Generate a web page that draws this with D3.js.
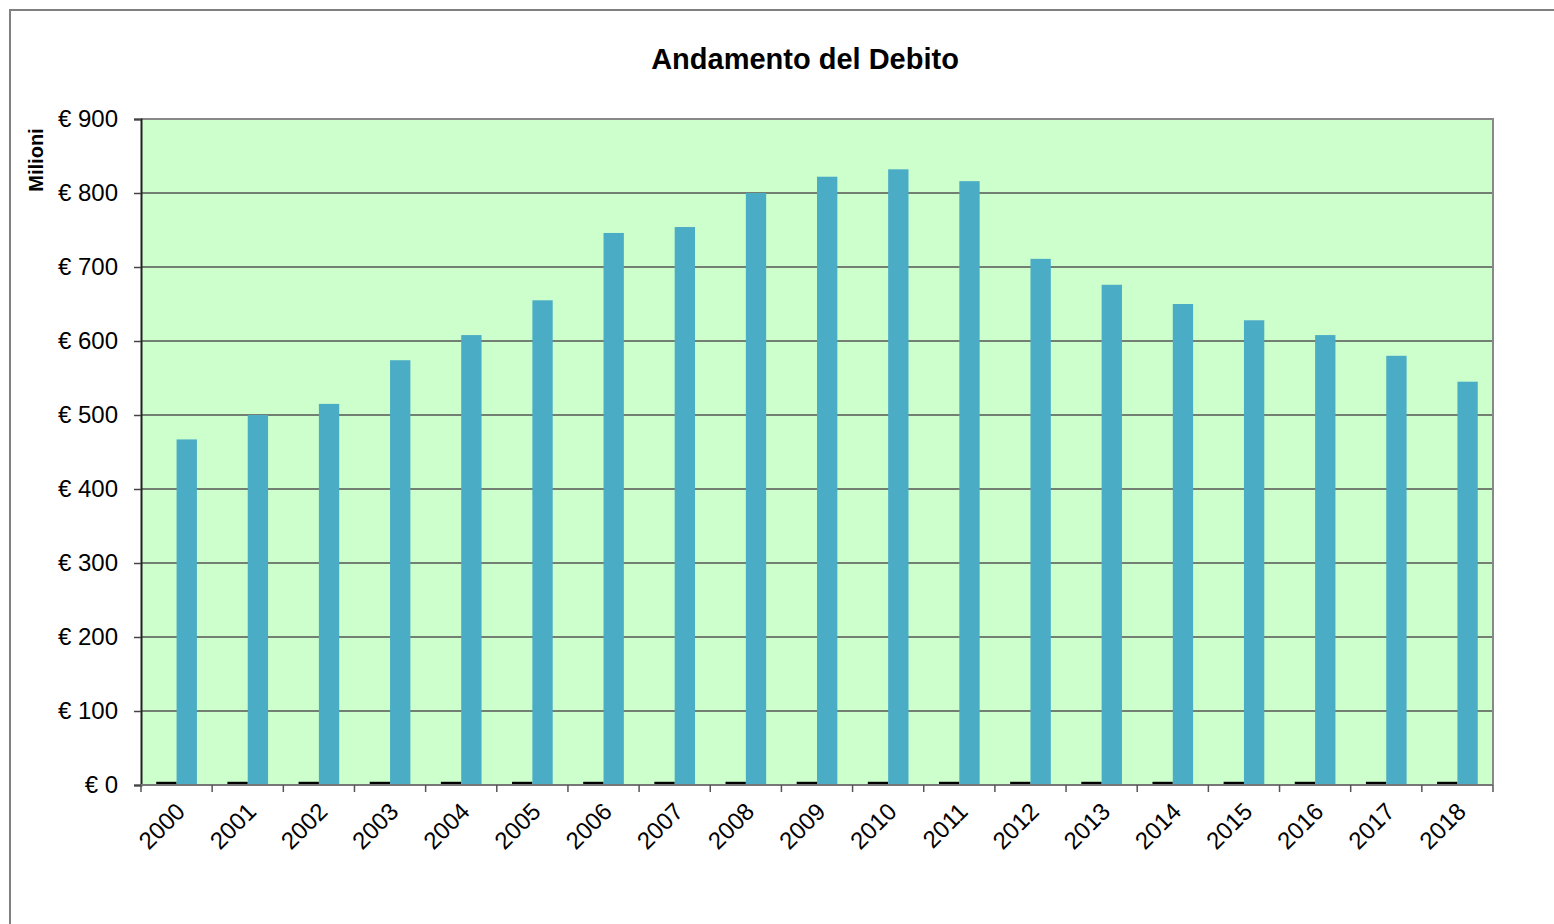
<!DOCTYPE html>
<html>
<head>
<meta charset="utf-8">
<script src="https://cdn.jsdelivr.net/npm/d3@7"></script>
<style>
  body { margin: 0; background: #fff; }
  text { font-family: "Liberation Sans", Arial, sans-serif; }
</style>
</head>
<body>
<svg id="chart" width="1554" height="924"></svg>
<script>
// anni e valori del debito (milioni di euro)
const years = ["2000","2001","2002","2003","2004","2005","2006","2007","2008","2009",
               "2010","2011","2012","2013","2014","2015","2016","2017","2018"];
const debito = [467, 500, 515, 574, 608, 655, 746, 754, 800, 822,
                832, 816, 711, 676, 650, 628, 608, 580, 545];
const altro = [3, 3, 3, 3, 3, 3, 3, 3, 3, 3, 3, 3, 3, 3, 3, 3, 3, 3, 3];
const yTicks = [0, 100, 200, 300, 400, 500, 600, 700, 800, 900];

const svg = d3.select("#chart");

// outer frame (cut off at right/bottom like the reference)
svg.append("rect")
    .attr("x", 10).attr("y", 10)
    .attr("width", 1560).attr("height", 930)
    .attr("fill", "none")
    .attr("stroke", "#808080")
    .attr("stroke-width", 2);

const pLeft = 141, pRight = 1493, pTop = 119, pBottom = 785;

const x = d3.scaleBand()
    .domain(years)
    .range([pLeft, pRight])
    .paddingInner(0)
    .paddingOuter(0);

const bw = x.bandwidth() / 3.5;   // two bars + 150% gap

const y = d3.scaleLinear()
    .domain([0, 900])
    .range([pBottom, pTop]);

// plot background
svg.append("rect")
    .attr("x", pLeft).attr("y", pTop)
    .attr("width", pRight - pLeft).attr("height", pBottom - pTop)
    .attr("fill", "#CCFFCC");

// gridlines
svg.append("g")
    .selectAll("line")
    .data(yTicks.filter(d => d > 0))
    .enter().append("line")
    .attr("x1", pLeft).attr("x2", pRight)
    .attr("y1", d => y(d)).attr("y2", d => y(d))
    .attr("stroke", "#555")
    .attr("stroke-width", 1.5);

// plot border (top/right gray)
svg.append("path")
    .attr("d", `M${pLeft},${pTop}H${pRight}V${pBottom}`)
    .attr("fill", "none")
    .attr("stroke", "#888")
    .attr("stroke-width", 2);

// bars: small dark series + blue series
svg.append("g")
    .selectAll("rect")
    .data(years)
    .enter().append("rect")
    .attr("x", (d) => x(d) + x.bandwidth() * 0.75 / 3.5)
    .attr("y", (d, i) => y(altro[i]) - 1)
    .attr("width", bw)
    .attr("height", (d, i) => y(0) - y(altro[i]) + 1)
    .attr("fill", "#000");

svg.append("g")
    .selectAll("rect")
    .data(years)
    .enter().append("rect")
    .attr("x", (d) => x(d) + x.bandwidth() * 0.75 / 3.5 + bw)
    .attr("y", (d, i) => y(debito[i]))
    .attr("width", bw)
    .attr("height", (d, i) => y(0) - y(debito[i]))
    .attr("fill", "#4BACC6");

// y axis
const yAxis = svg.append("g")
    .attr("transform", `translate(${pLeft},0)`)
    .call(d3.axisLeft(y).tickValues(yTicks).tickSize(7).tickPadding(16)
        .tickFormat(d => "€ " + d));
yAxis.select(".domain").attr("stroke", "#222").attr("stroke-width", 2);
yAxis.selectAll(".tick line").attr("stroke", "#444").attr("stroke-width", 1.5);
yAxis.selectAll("text")
    .attr("font-size", 24)
    .attr("fill", "#000");

// x axis (ticks at category boundaries)
const xAxisG = svg.append("g")
    .attr("transform", `translate(0,${pBottom})`);
xAxisG.append("line")
    .attr("x1", pLeft).attr("x2", pRight)
    .attr("stroke", "#777").attr("stroke-width", 2);
xAxisG.selectAll(".bt")
    .data(years.concat(["end"]))
    .enter().append("line")
    .attr("x1", (d, i) => i < years.length ? x(d) : pRight)
    .attr("x2", (d, i) => i < years.length ? x(d) : pRight)
    .attr("y1", 0).attr("y2", 7)
    .attr("stroke", "#555").attr("stroke-width", 1.5);
xAxisG.selectAll("text")
    .data(years)
    .enter().append("text")
    .attr("transform", d => `translate(${x(d) + x.bandwidth() / 2 + 4},${22}) rotate(-45)`)
    .attr("text-anchor", "end")
    .attr("dy", "0.35em")
    .attr("font-size", 24)
    .text(d => d);

// title
svg.append("text")
    .attr("x", 805).attr("y", 69)
    .attr("text-anchor", "middle")
    .attr("font-size", 29)
    .attr("font-weight", "bold")
    .text("Andamento del Debito");

// y axis title
svg.append("text")
    .attr("transform", "translate(43,160) rotate(-90)")
    .attr("text-anchor", "middle")
    .attr("font-size", 20)
    .attr("font-weight", "bold")
    .text("Milioni");
</script>
</body>
</html>
